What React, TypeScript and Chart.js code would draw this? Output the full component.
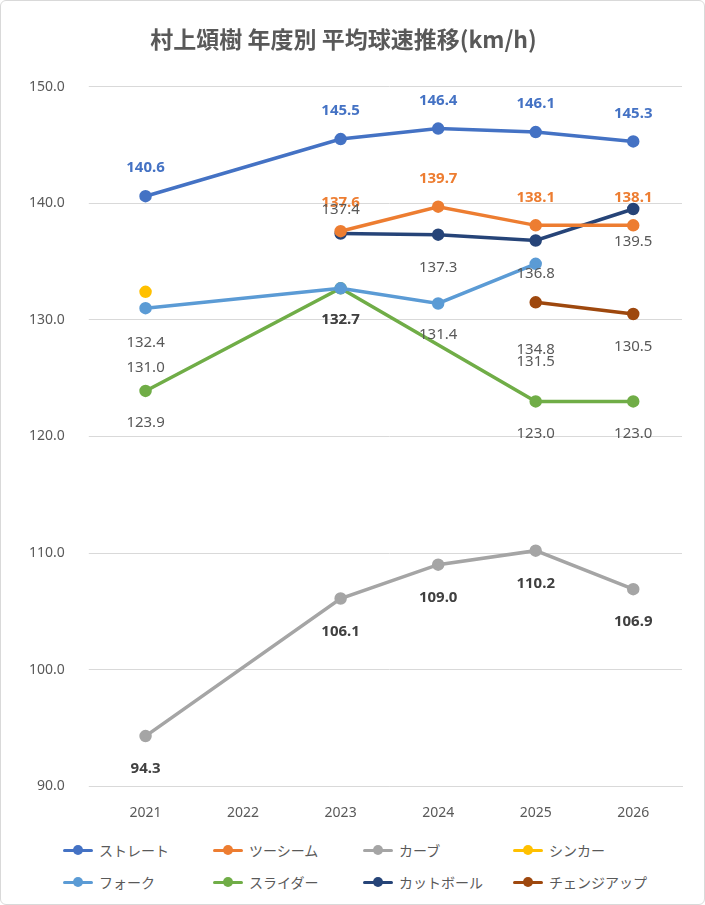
import React, { useEffect, useRef } from "react";
import { Chart, registerables } from "chart.js";
Chart.register(...registerables);

const years = ["2021", "2022", "2023", "2024", "2025", "2026"];
const straight = [140.6, null, 145.5, 146.4, 146.1, 145.3];
const twoSeam = [null, null, 137.6, 139.7, 138.1, 138.1];
const curve = [94.3, null, 106.1, 109.0, 110.2, 106.9];
const sinker = [132.4, null, null, null, null, null];
const fork = [131.0, null, 132.7, 131.4, 134.8, null];
const slider = [123.9, null, 132.7, null, 123.0, 123.0];
const cutBall = [null, null, 137.4, 137.3, 136.8, 139.5];
const changeUp = [null, null, null, null, 131.5, 130.5];
const names = ["ストレート", "ツーシーム", "カーブ", "シンカー", "フォーク", "スライダー", "カットボール", "チェンジアップ"];
const colors = ["#4472C4", "#ED7D31", "#A5A5A5", "#FFC000", "#5B9BD5", "#70AD47", "#264478", "#9E480E"];

// label style per dataset: [offsetY, color, bold]
const labelStyle: [number, string, boolean][] = [
  [-28, "#4472C4", true], [-28, "#ED7D31", true], [33, "#404040", true], [51, "#595959", false],
  [60, "#595959", false], [32, "#595959", false], [33, "#595959", false], [33, "#595959", false],
];
const overrides: Record<string, [number, string, boolean]> = {
  "4-2": [31, "#595959", false], "4-4": [86, "#595959", false], "4-3": [31, "#595959", false],
  "5-2": [31, "#404040", true], "7-4": [59, "#595959", false], "6-2": [-24, "#595959", false],
};

const labelsPlugin = {
  id: "vlabels",
  afterDatasetsDraw(chart: any) {
    const ctx = chart.ctx;
    chart.data.datasets.forEach((ds: any, i: number) => {
      const meta = chart.getDatasetMeta(i);
      ds.data.forEach((v: any, j: number) => {
        if (v == null) return;
        const el = meta.data[j];
        const s = overrides[i + "-" + j] || labelStyle[i];
        ctx.save();
        ctx.font = `${s[2] ? "bold " : ""}15px "Noto Sans", sans-serif`;
        ctx.fillStyle = s[1];
        ctx.textAlign = "center"; ctx.textBaseline = "middle";
        ctx.fillText(v.toFixed(1), el.x, el.y + s[0]);
        ctx.restore();
      });
    });
  },
};

export default function App() {
  const ref = useRef<HTMLCanvasElement>(null);
  useEffect(() => {
    const series = [straight, twoSeam, curve, sinker, fork, slider, cutBall, changeUp];
    const chart = new Chart(ref.current!, {
      type: "line",
      data: {
        labels: years,
        datasets: series.map((d, i) => ({
          label: names[i], data: d, borderColor: colors[i], backgroundColor: colors[i],
          borderWidth: 3.5, pointRadius: 4.5, pointHoverRadius: 4.5, spanGaps: true,
        })),
      },
      options: {
        animation: false, responsive: false,
        layout: { padding: { left: 4, right: 22, bottom: 0 } },
        plugins: {
          title: { display: true, text: "村上頌樹 年度別 平均球速推移(km/h)", color: "#595959",
            font: { size: 23, weight: "bold", family: '"Noto Sans CJK JP", sans-serif' }, padding: { top: 24, bottom: 34 } },
          legend: { display: false },
          tooltip: { enabled: false },
        },
        scales: {
          x: { offset: true, grid: { display: false }, border: { color: "#d9d9d9" },
            ticks: { color: "#595959", font: { size: 14, family: '"Noto Sans", sans-serif' }, padding: 10 } },
          y: { min: 90, max: 150, grid: { color: "#d9d9d9" }, border: { display: false },
            ticks: { stepSize: 10, color: "#595959", font: { size: 14, family: '"Noto Sans", sans-serif' }, padding: 24,
              callback: (v: any) => Number(v).toFixed(1) } },
        },
      },
      plugins: [labelsPlugin],
    });
    return () => chart.destroy();
  }, []);
  return (
    <div style={{ position: "fixed", left: 0, top: 0, width: 703, height: 903, border: "1px solid #d9d9d9", borderRadius: 6, background: "#fff", fontFamily: '"Noto Sans CJK JP", sans-serif' }}>
      <canvas ref={ref} width={703} height={830} style={{ display: "block" }} />
      <div style={{ display: "grid", gridTemplateColumns: "150px 150px 150px 150px", rowGap: 10, paddingLeft: 62, marginTop: 8 }}>
        {names.map((n, i) => (
          <div key={n} style={{ display: "flex", alignItems: "center", fontSize: 14, color: "#595959", height: 22 }}>
            <span style={{ position: "relative", width: 30, height: 10, marginRight: 6, display: "inline-block" }}>
              <span style={{ position: "absolute", left: 0, right: 0, top: 3.5, height: 3.5, borderRadius: 2, background: colors[i] }} />
              <span style={{ position: "absolute", left: 10, top: 0, width: 10, height: 10, borderRadius: 5, background: colors[i] }} />
            </span>
            {n}
          </div>
        ))}
      </div>
    </div>
  );
}
